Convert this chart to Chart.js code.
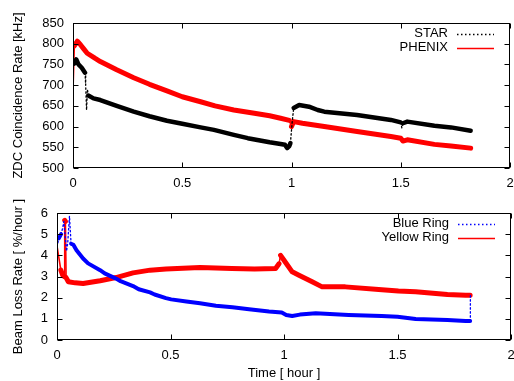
<!DOCTYPE html>
<html>
<head>
<meta charset="utf-8">
<script src="https://cdn.jsdelivr.net/npm/chart.js@4/dist/chart.umd.min.js"></script>
<style>
  html, body { margin: 0; padding: 0; background: #fff; }
  #wrap { position: relative; width: 514px; height: 381px; }
  #top { position: absolute; left: 0; top: 0; }
  #bottom { position: absolute; left: 0; top: 190px; }
</style>
</head>
<body>
<div id="wrap">
  <canvas id="top" width="514" height="190"></canvas>
  <canvas id="bottom" width="514" height="191"></canvas>
</div>
<script>
// ── DATA ──
const starHours   = [0, 0.005, 0.015, 0.025, 0.04, 0.055, 0.058, 0.062, 0.066, 0.07, 0.094, 0.125, 0.2, 0.278, 0.35, 0.43, 0.5, 0.584, 0.645, 0.736, 0.8, 0.9, 0.95, 0.97, 0.98, 0.99, 0.995, 1.003, 1.01, 1.035, 1.08, 1.12, 1.15, 1.3, 1.455, 1.5, 1.505, 1.51, 1.53, 1.654, 1.73, 1.82];
const starRate    = [760, 752, 762, 750, 742, 730, 700, 640, 690, 675, 668, 664, 650, 636, 625, 614, 607, 598, 592, 580, 572, 562, 558, 556, 548, 553, 560, 610, 645, 652, 648, 640, 636, 628, 616, 610, 597, 608, 612, 602, 598, 590];

const phenixHours = [0, 0.006, 0.02, 0.035, 0.05, 0.065, 0.1, 0.125, 0.2, 0.278, 0.35, 0.43, 0.5, 0.584, 0.65, 0.736, 0.83, 0.9, 0.95, 0.99, 1.0, 1.01, 1.05, 1.15, 1.3, 1.455, 1.5, 1.51, 1.53, 1.654, 1.73, 1.82];
const phenixRate  = [688, 795, 806, 797, 787, 777, 765, 757, 737, 718, 702, 686, 672, 660, 650, 640, 632, 626, 620, 615, 600, 612, 608, 600, 588, 576, 572, 565, 568, 557, 553, 548];

const blueHours   = [0, 0.008, 0.018, 0.025, 0.03, 0.042, 0.047, 0.055, 0.062, 0.072, 0.086, 0.115, 0.137, 0.19, 0.21, 0.26, 0.28, 0.335, 0.36, 0.41, 0.43, 0.48, 0.503, 0.57, 0.63, 0.7, 0.773, 0.846, 0.934, 0.99, 1.01, 1.036, 1.07, 1.14, 1.285, 1.43, 1.5, 1.58, 1.72, 1.8, 1.82, 1.821];
const blueLoss    = [4.4, 4.8, 5.0, 5.3, 5.6, 4.2, 4.55, 5.85, 4.55, 4.5, 4.24, 3.85, 3.62, 3.3, 3.15, 2.9, 2.78, 2.55, 2.4, 2.25, 2.15, 1.98, 1.92, 1.82, 1.74, 1.62, 1.55, 1.45, 1.35, 1.3, 1.18, 1.13, 1.2, 1.26, 1.18, 1.13, 1.1, 0.99, 0.94, 0.9, 0.9, 2.15];

const yellowHours = [0, 0.008, 0.017, 0.025, 0.032, 0.034, 0.037, 0.04, 0.05, 0.08, 0.115, 0.19, 0.26, 0.335, 0.41, 0.48, 0.63, 0.77, 0.87, 0.963, 0.978, 0.985, 1.0, 1.036, 1.066, 1.124, 1.168, 1.27, 1.417, 1.504, 1.58, 1.72, 1.8, 1.82];
const yellowLoss  = [4.45, 3.9, 3.3, 3.06, 3.0, 5.65, 5.6, 2.95, 2.75, 2.7, 2.67, 2.8, 2.95, 3.17, 3.3, 3.35, 3.42, 3.38, 3.35, 3.38, 3.6, 4.0, 3.77, 3.22, 3.06, 2.75, 2.51, 2.51, 2.39, 2.32, 2.28, 2.15, 2.12, 2.12];

const FONT = '"Liberation Sans", Arial, Helvetica, sans-serif';
Chart.defaults.font.family = FONT;
Chart.defaults.font.size = 13;
Chart.defaults.color = '#000';

const pts = (xs, ys) => xs.map((x, i) => ({ x: x, y: ys[i] }));

// steep jumps are drawn thin (and dotted for the dotted series), like gnuplot does
const steep = c => Math.abs(c.p1.y - c.p0.y) > 1.2 * Math.abs(c.p1.x - c.p0.x) + 3;

function series(label, data, color, width, dotted) {
  return {
    label: label,
    data: data,
    borderColor: color,
    backgroundColor: color,
    borderWidth: width,
    pointRadius: 0,
    tension: 0,
    borderJoinStyle: 'round',
    borderCapStyle: 'round',
    segment: {
      borderWidth: c => steep(c) ? (dotted ? 1.3 : 1.6) : undefined,
      borderDash: c => (steep(c) && dotted) ? [1.5, 2.5] : undefined,
    },
    keyDash: dotted ? [1.5, 2.5] : [],
  };
}

// ── frame with inward ticks on all four sides ──
const framePlugin = {
  id: 'frame',
  afterDraw(chart) {
    const { ctx, chartArea: a, scales: { x, y } } = chart;
    const L = Math.round(a.left) + 0.5, R = Math.round(a.right) - 0.5;
    const T = Math.round(a.top) + 0.5, B = Math.round(a.bottom) - 0.5;
    ctx.save();
    ctx.strokeStyle = '#000';
    ctx.lineWidth = 1;
    ctx.setLineDash([]);
    ctx.strokeRect(L, T, R - L, B - T);
    ctx.beginPath();
    x.ticks.forEach(t => {
      const px = Math.round(x.getPixelForValue(t.value)) + 0.5;
      ctx.moveTo(px, B); ctx.lineTo(px, B - 5);
      ctx.moveTo(px, T); ctx.lineTo(px, T + 5);
    });
    y.ticks.forEach(t => {
      const py = Math.round(y.getPixelForValue(t.value)) + 0.5;
      ctx.moveTo(L, py); ctx.lineTo(L + 5, py);
      ctx.moveTo(R, py); ctx.lineTo(R - 5, py);
    });
    ctx.stroke();
    ctx.restore();
  }
};

// ── gnuplot style key: text right aligned, line sample to its right ──
const keyPlugin = {
  id: 'key',
  afterDraw(chart) {
    const { ctx, chartArea: a } = chart;
    ctx.save();
    ctx.font = '13px ' + FONT;
    ctx.textAlign = 'right';
    ctx.textBaseline = 'middle';
    chart.data.datasets.forEach((ds, i) => {
      const yy = a.top + 10.5 + i * 14.4;
      ctx.fillStyle = '#000';
      ctx.fillText(ds.label, a.right - 62, yy);
      ctx.strokeStyle = ds.borderColor;
      ctx.lineWidth = ds.keyDash.length ? 1.3 : 1.5;
      ctx.setLineDash(ds.keyDash);
      ctx.beginPath();
      ctx.moveTo(a.right - 53, Math.round(yy) + 0.5);
      ctx.lineTo(a.right - 16, Math.round(yy) + 0.5);
      ctx.stroke();
    });
    ctx.restore();
  }
};

function makeChart(id, datasets, yMin, yMax, yStep, yTitle, yWidth, xHeight, xTitle, padRight) {
  return new Chart(document.getElementById(id), {
    type: 'line',
    data: { datasets: datasets },
    options: {
      responsive: false,
      animation: false,
      devicePixelRatio: 1,
      layout: { padding: { top: 23, right: padRight, left: 0, bottom: 0 } },
      plugins: { legend: { display: false }, tooltip: { enabled: false } },
      scales: {
        x: {
          type: 'linear', min: 0, max: 2,
          ticks: { stepSize: 0.5, padding: 7.5, maxRotation: 0, callback: v => String(v) },
          grid: { display: false, drawTicks: false },
          border: { display: false },
          title: { display: !!xTitle, text: xTitle, padding: { top: 0, bottom: 0 } },
          afterFit: s => { s.height = xHeight; s.paddingLeft = 0; s.paddingRight = 0; },
        },
        y: {
          min: yMin, max: yMax,
          ticks: { stepSize: yStep, padding: 9 },
          grid: { display: false, drawTicks: false },
          border: { display: false },
          title: { display: true, text: yTitle, padding: { top: 10.5, bottom: 0 } },
          afterFit: s => { s.width = yWidth; s.paddingTop = 0; s.paddingBottom = 0; },
        }
      }
    },
    plugins: [framePlugin, keyPlugin]
  });
}

makeChart('top', [
  series('STAR', pts(starHours, starRate), '#000000', 4.5, true),
  series('PHENIX', pts(phenixHours, phenixRate), '#ff0000', 5, false),
], 500, 850, 50, 'ZDC Coincidence Rate [kHz]', 73, 22, '', 4);

makeChart('bottom', [
  series('Blue Ring', pts(blueHours, blueLoss), '#0000ff', 4, true),
  series('Yellow Ring', pts(yellowHours, yellowLoss), '#ff0000', 5, false),
], 0, 6, 1, 'Beam Loss Rate [ %/hour ]', 57, 41, 'Time [ hour ]', 3);
</script>
</body>
</html>
